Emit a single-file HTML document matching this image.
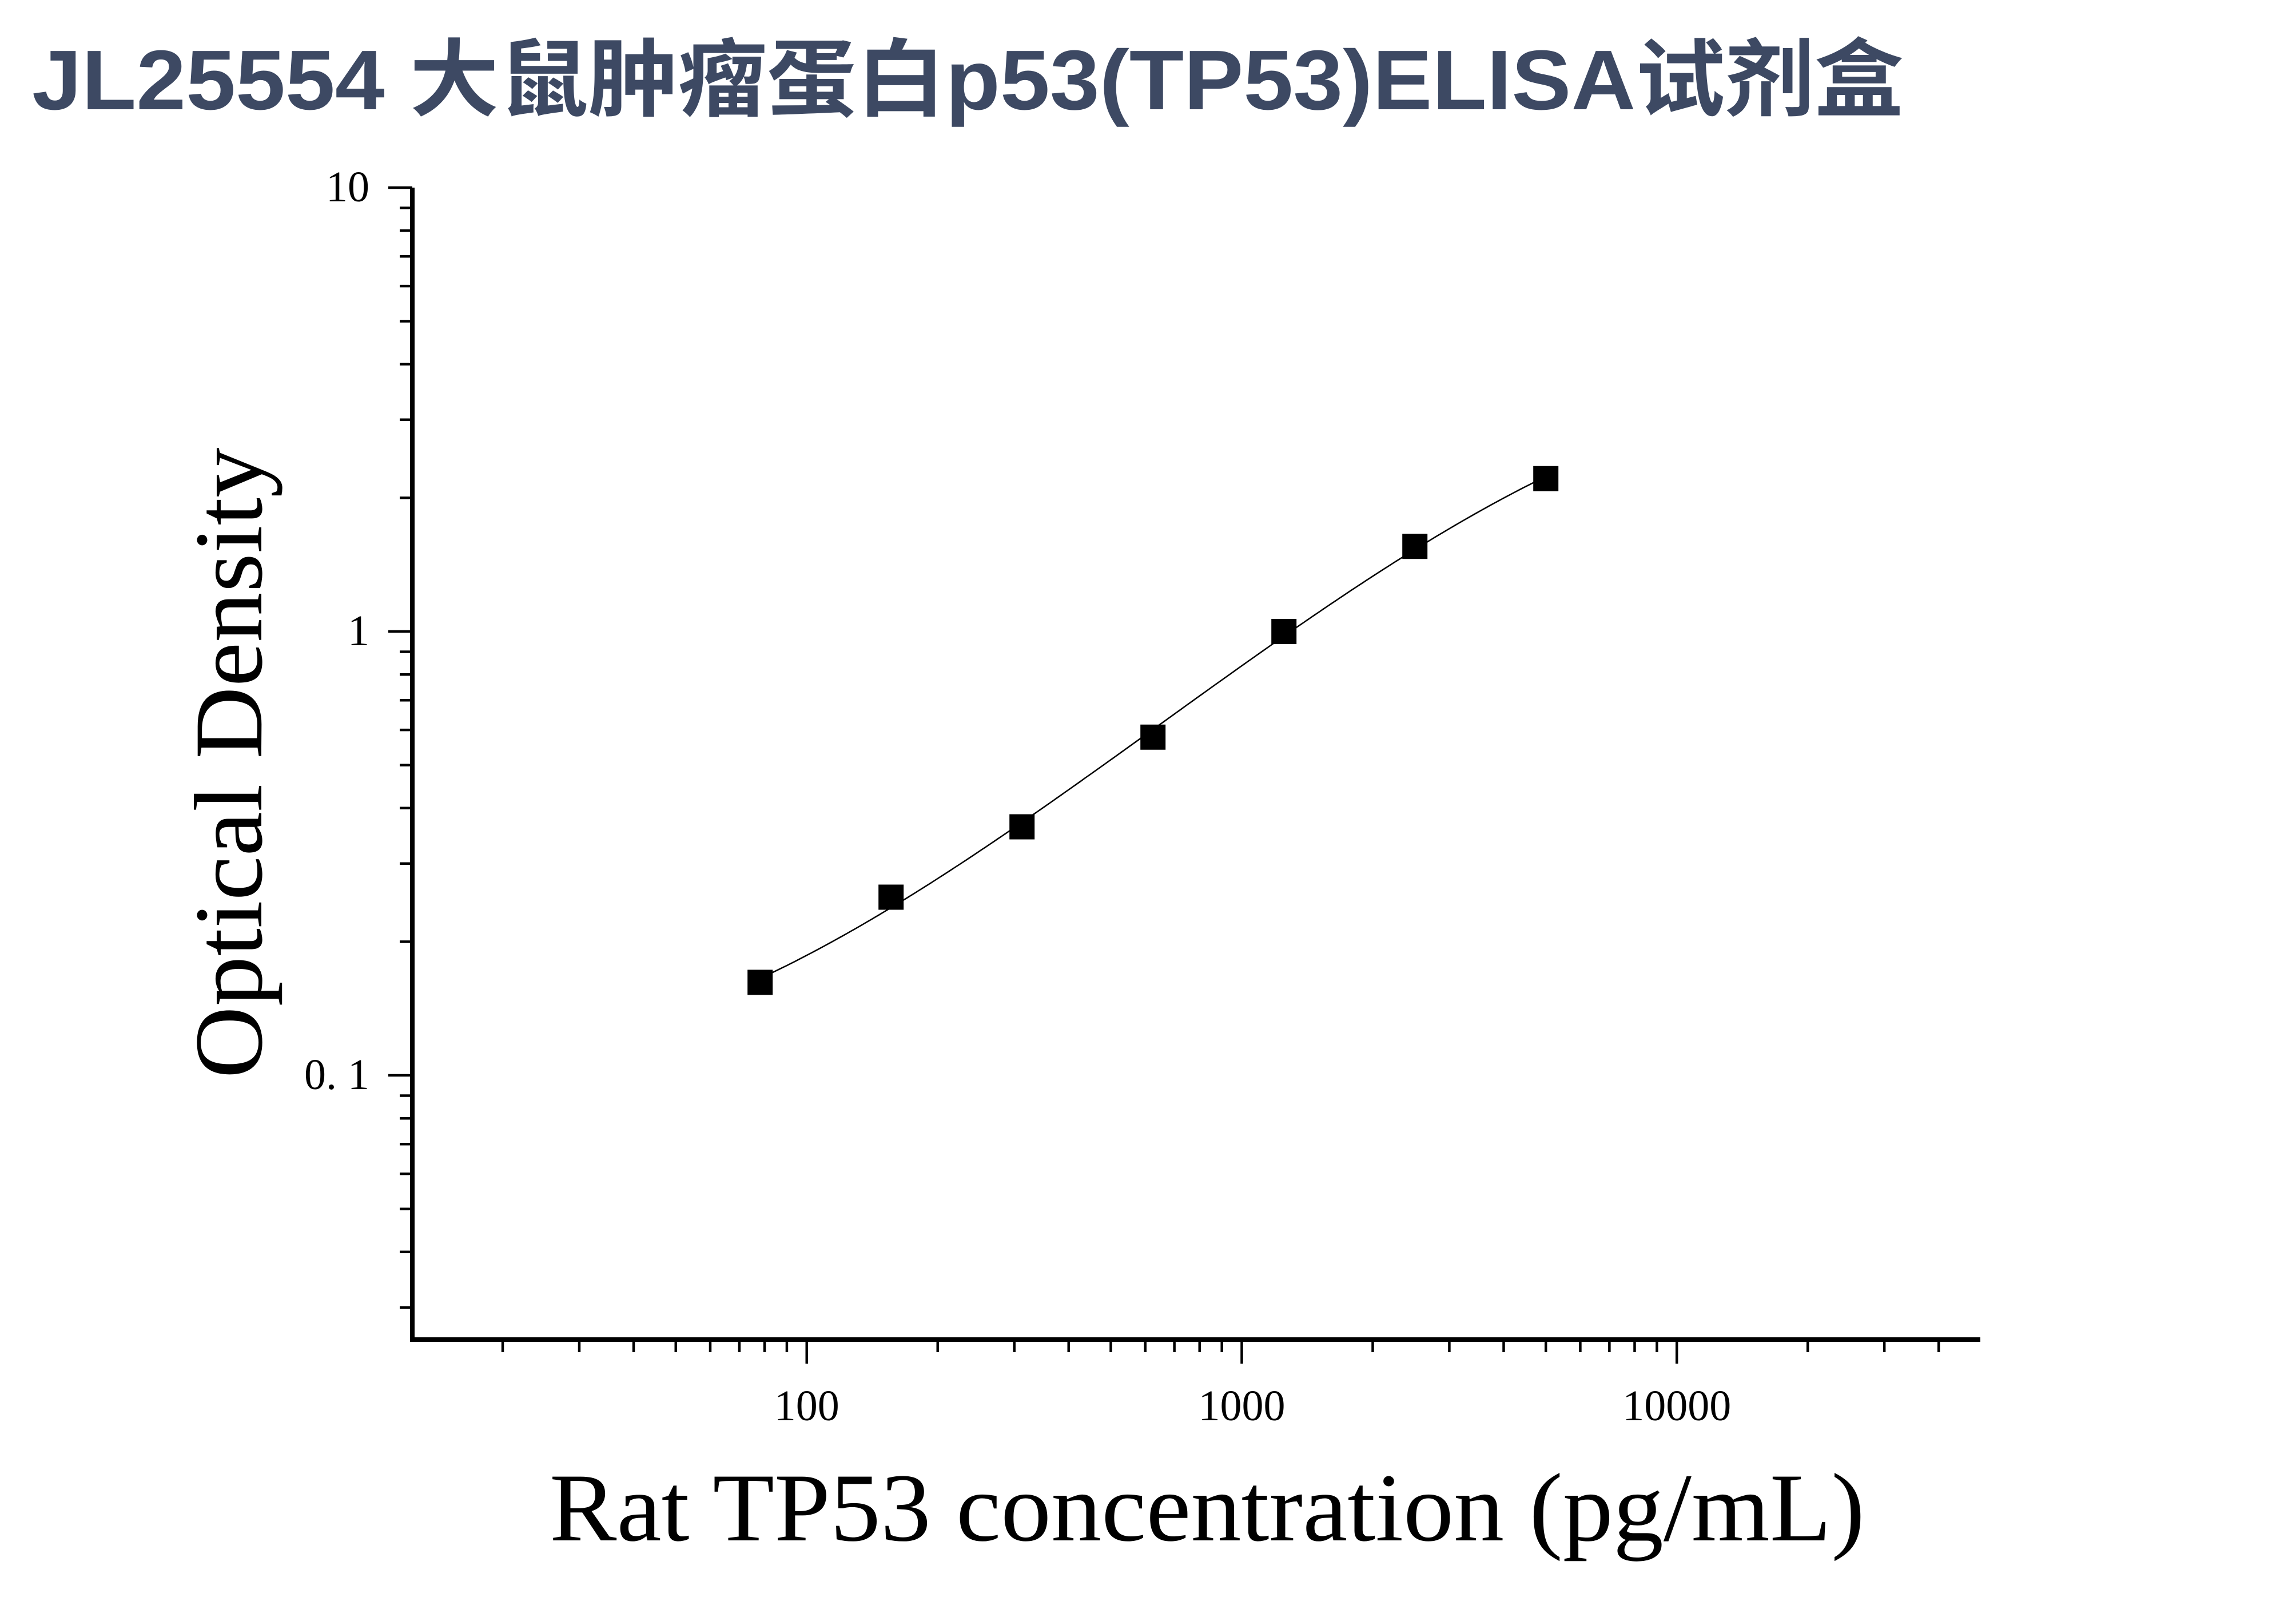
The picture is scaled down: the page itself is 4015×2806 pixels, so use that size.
<!DOCTYPE html>
<html><head><meta charset="utf-8"><style>
html,body{margin:0;padding:0;background:#fff;}
svg{display:block;}
</style></head><body>
<svg id="chart" width="4015" height="2806" viewBox="0 0 4015 2806" xmlns="http://www.w3.org/2000/svg">
<rect width="4015" height="2806" fill="#fff"/>
<text x="56" y="191" font-family="'Liberation Sans','Noto Sans CJK SC',sans-serif" font-weight="bold" font-size="148" fill="#3d4963" textLength="3273" lengthAdjust="spacingAndGlyphs">JL25554 大鼠肿瘤蛋白p53(TP53)ELISA试剂盒</text>
<g id="axes"></g>
<g id="marks"></g>
<text x="2111" y="2693" text-anchor="middle" font-family="'Liberation Serif',serif" font-size="170" fill="#000" textLength="2300" lengthAdjust="spacingAndGlyphs">Rat TP53 concentration (pg/mL)</text>
<text transform="translate(457,1334) rotate(-90)" text-anchor="middle" font-family="'Liberation Serif',serif" font-size="170" fill="#000" textLength="1103" lengthAdjust="spacingAndGlyphs">Optical Density</text>
</svg>
<script>
const concentrations = [78.125, 156.25, 312.5, 625, 1250, 2500, 5000];
const odValues = [0.162, 0.252, 0.363, 0.578, 1.0, 1.555, 2.21];
const xTickValues = [100, 1000, 10000];
const xTickLabels = ["100", "1000", "10000"];
const yTickValues = [0.1, 1, 10];
const yTickLabels = ["0. 1", "1", "10"];

const NS = "http://www.w3.org/2000/svg";
const X0 = 721, X1 = 3463, Y0 = 2342, Y1 = 328;
const xMin = 2 - (1411 - 721) / 761, xMax = 4 + (3463 - 2932) / 761;
const yMin = -1 - (2342 - 1880) / 776, yMax = 1;
function xs(v){ return X0 + (Math.log10(v) - xMin) / (xMax - xMin) * (X1 - X0); }
function ys(v){ return Y0 - (Math.log10(v) - yMin) / (yMax - yMin) * (Y0 - Y1); }
function mk(tag, attrs, parent){
  const e = document.createElementNS(NS, tag);
  for (const k in attrs) e.setAttribute(k, attrs[k]);
  parent.appendChild(e);
  return e;
}
const axes = document.getElementById('axes');
const marks = document.getElementById('marks');

let yAxis = mk('line', {x1: X0, y1: Y1, x2: X0, y2: Y0 + 4, stroke: '#000', 'stroke-width': 8}, axes);


let xAxis = mk('line', {x1: X0 - 4, y1: Y0, x2: X1, y2: Y0, stroke: '#000', 'stroke-width': 8}, axes);



const xLo = Math.pow(10, xMin), xHi = Math.pow(10, xMax);
for (let d = 10; d <= 10000; d *= 10) {
  for (let m = 1; m <= 9; m++) {
    const v = d * m;
    if (v < xLo || v > xHi * 1.001) continue;
    const major = (m === 1);
    const x = xs(v);
    const t = mk('line', {x1: x, y1: Y0, x2: x, y2: Y0 + (major ? 42 : 22), stroke: '#000', 'stroke-width': 4.5}, axes);
    
    
  }
}
xTickValues.forEach((v, i) => {
  const t = mk('text', {x: xs(v), y: 2483, 'text-anchor': 'middle', 'font-family': "'Liberation Serif',serif", 'font-size': 76}, axes);
  t.textContent = xTickLabels[i];
  
  
});

const yLo = Math.pow(10, yMin);
for (let d = 0.01; d <= 10; d *= 10) {
  for (let m = 1; m <= 9; m++) {
    const v = d * m;
    if (v < yLo || v > 10.001) continue;
    const major = (m === 1);
    const y = ys(v);
    const t = mk('line', {x1: X0, y1: y, x2: X0 - (major ? 42 : 22), y2: y, stroke: '#000', 'stroke-width': 4.5}, axes);
    
    
  }
}
yTickValues.forEach((v, i) => {
  const t = mk('text', {x: 646, y: ys(v) + 24, 'text-anchor': 'end', 'font-family': "'Liberation Serif',serif", 'font-size': 76}, axes);
  t.textContent = yTickLabels[i];
  
  
});

// smooth fitted curve: cubic least-squares in log-log space
const lx = concentrations.map(v => Math.log10(v)), ly = odValues.map(v => Math.log10(v));
const deg = 3, n = deg + 1;
const A = [], B = [];
for (let r = 0; r < n; r++) { A.push(new Array(n).fill(0)); B.push(0); }
for (let k = 0; k < lx.length; k++) {
  for (let r = 0; r < n; r++) {
    for (let c = 0; c < n; c++) A[r][c] += Math.pow(lx[k], r + c);
    B[r] += ly[k] * Math.pow(lx[k], r);
  }
}
for (let i = 0; i < n; i++) {
  let p = i;
  for (let r = i + 1; r < n; r++) if (Math.abs(A[r][i]) > Math.abs(A[p][i])) p = r;
  [A[i], A[p]] = [A[p], A[i]]; [B[i], B[p]] = [B[p], B[i]];
  for (let r = 0; r < n; r++) {
    if (r === i) continue;
    const f = A[r][i] / A[i][i];
    for (let c = i; c < n; c++) A[r][c] -= f * A[i][c];
    B[r] -= f * B[i];
  }
}
const coef = B.map((b, i) => b / A[i][i]);
const lStart = Math.log10(concentrations[0]) - 0.02, lEnd = Math.log10(concentrations[concentrations.length - 1]);
let d = '';
for (let s = 0; s <= 200; s++) {
  const t = lStart + (lEnd - lStart) * s / 200;
  let yv = 0;
  for (let i = 0; i < n; i++) yv += coef[i] * Math.pow(t, i);
  d += (s ? ' L' : 'M') + xs(Math.pow(10, t)).toFixed(1) + ',' + ys(Math.pow(10, yv)).toFixed(1);
}
const curve = mk('path', {d: d, fill: 'none', stroke: '#000', 'stroke-width': 2.5}, marks);



concentrations.forEach((c, i) => {
  const s = 44;
  const r = mk('rect', {x: xs(c) - s / 2, y: ys(odValues[i]) - s / 2, width: s, height: s, fill: '#000'}, marks);
  
  
});
</script>
</body></html>
